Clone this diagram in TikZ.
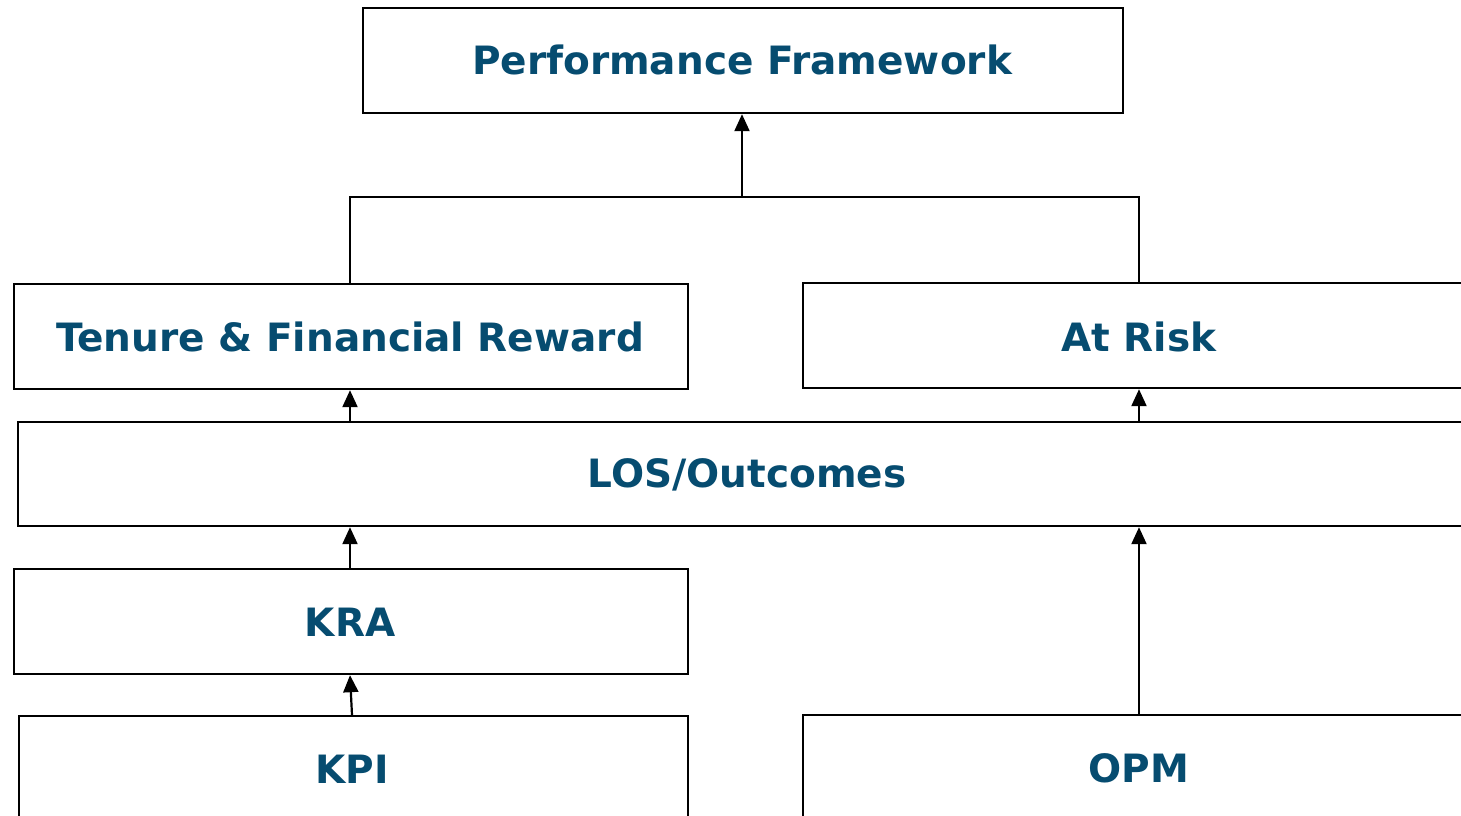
\documentclass[tikz,border=0pt]{standalone}
\usepackage{fontspec}
\setmainfont{DejaVu Sans}
\usetikzlibrary{arrows.meta}
\definecolor{txtblue}{RGB}{6,76,112}
\tikzset{
  box/.style={draw=black, line width=2.2pt, fill=white, inner sep=0pt, anchor=north west},
  lbl/.style={text=txtblue, font=\fontsize{39}{46}\selectfont\bfseries},
  conn/.style={draw=black, line width=2.2pt},
  arr/.style={conn, -{Triangle[length=17pt,width=15pt]}}
}
\begin{document}
\begin{tikzpicture}[x=1pt,y=-1pt]
\useasboundingbox (0,0) rectangle (1461,816);
\clip (0,0) rectangle (1461,816);
% boxes
\node[box, minimum width=760pt, minimum height=105pt] (pf) at (362,7) {};
\node[box, minimum width=674pt, minimum height=105pt] (ten) at (13,283) {};
\node[box, minimum width=674pt, minimum height=105pt] (risk) at (802,282) {};
\node[box, minimum width=1460pt, minimum height=104pt] (los) at (17,421) {};
\node[box, minimum width=674pt, minimum height=105pt] (kra) at (13,568) {};
\node[box, minimum width=669pt, minimum height=110pt] (kpi) at (18,715) {};
\node[box, minimum width=674pt, minimum height=110pt] (opm) at (802,714) {};
% labels
\node[lbl] (tpf) at (742,60) {Performance Framework};
\node[lbl] (tten) at (350,337) {Tenure \& Financial Reward};
\node[lbl] (trisk) at (1139,337) {At Risk};
\node[lbl] (tlos) at (747,475) {LOS/Outcomes};
\node[lbl] (tkra) at (350,622) {KRA};
\node[lbl] (tkpi) at (352,769) {KPI};
\node[lbl] (topm) at (1139,768) {OPM};
% connectors
\coordinate (j) at (742,197);
\draw[conn] (ten.north -| 350,0) |- (j) -| (risk.north -| 1139,0);
\draw[arr] (j) -- (pf.south -| j);
\draw[arr] (los.north -| 350,0) -- (ten.south -| 350,0);
\draw[arr] (los.north -| 1139,0) -- (risk.south -| 1139,0);
\draw[arr] (kra.north -| 350,0) -- (los.south -| 350,0);
\draw[arr] (kpi.north -| 352,0) -- (kra.south -| 350,0);
\draw[arr] (opm.north -| 1139,0) -- (los.south -| 1139,0);
\end{tikzpicture}
\end{document}
